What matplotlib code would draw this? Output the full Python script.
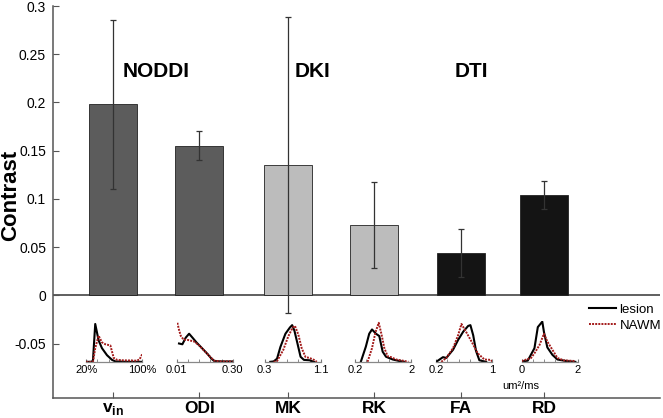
import matplotlib
matplotlib.use("Agg")

import matplotlib.pyplot as plt
from matplotlib.lines import Line2D

plt.rcParams["font.family"] = ["Liberation Sans", "DejaVu Sans"]
plt.rcParams["mathtext.fontset"] = "custom"
plt.rcParams["mathtext.rm"] = "Liberation Sans"
plt.rcParams["mathtext.bf"] = "Liberation Sans:bold"

# bar values
metrics = ["vin", "ODI", "MK", "RK", "FA", "RD"]
tick_labels = [r"$\mathbf{v}_{\mathbf{in}}$", "ODI", "MK", "RK", "FA", "RD"]
contrast = [0.198, 0.155, 0.1355, 0.073, 0.044, 0.104]
contrast_err = [0.088, 0.015, 0.1535, 0.045, 0.025, 0.015]
groups = ["NODDI", "NODDI", "DKI", "DKI", "DTI", "DTI"]
range_labels = [
    ("20%", "100%"),
    ("0.01", "0.30"),
    ("0.3", "1.1"),
    ("0.2", "2"),
    ("0.2", "1"),
    ("0", "2"),
]

# histograms (position along the metric range, normalised height)
vin_lesion_x = [0.00, 0.10, 0.12, 0.16, 0.22, 0.28, 0.37, 0.46, 0.52, 0.70, 1.00]
vin_lesion_y = [0.00, 0.00, 0.05, 0.97, 0.55, 0.35, 0.17, 0.05, 0.01, 0.00, 0.00]
vin_nawm_x = [0.00, 0.12, 0.16, 0.22, 0.28, 0.34, 0.43, 0.46, 0.49, 0.55, 0.65, 0.90, 0.95, 1.00]
vin_nawm_y = [0.00, 0.00, 0.35, 0.67, 0.50, 0.45, 0.42, 0.26, 0.10, 0.05, 0.04, 0.03, 0.06, 0.20]

odi_lesion_x = [0.04, 0.10, 0.16, 0.22, 0.28, 0.35, 0.45, 0.55, 0.62, 0.67, 0.80, 1.00]
odi_lesion_y = [0.47, 0.45, 0.62, 0.72, 0.62, 0.50, 0.35, 0.20, 0.08, 0.02, 0.01, 0.01]
odi_nawm_x = [0.01, 0.04, 0.07, 0.12, 0.20, 0.31, 0.40, 0.50, 0.60, 0.67, 0.80, 1.00]
odi_nawm_y = [1.00, 0.82, 0.67, 0.57, 0.56, 0.52, 0.42, 0.27, 0.12, 0.03, 0.01, 0.01]

mk_lesion_x = [0.10, 0.16, 0.22, 0.28, 0.37, 0.45, 0.49, 0.53, 0.58, 0.64, 0.70, 0.80, 0.88]
mk_lesion_y = [0.00, 0.01, 0.08, 0.38, 0.72, 0.88, 0.94, 0.80, 0.50, 0.13, 0.05, 0.04, 0.00]
mk_nawm_x = [0.16, 0.22, 0.33, 0.42, 0.50, 0.54, 0.60, 0.66, 0.73, 0.80, 0.88, 0.93]
mk_nawm_y = [0.00, 0.02, 0.30, 0.65, 0.88, 0.92, 0.70, 0.35, 0.12, 0.10, 0.05, 0.00]

rk_lesion_x = [0.10, 0.19, 0.25, 0.30, 0.37, 0.43, 0.49, 0.55, 0.67, 0.79, 0.88]
rk_lesion_y = [0.00, 0.39, 0.72, 0.83, 0.72, 0.66, 0.26, 0.13, 0.06, 0.02, 0.00]
rk_nawm_x = [0.22, 0.30, 0.36, 0.42, 0.47, 0.52, 0.58, 0.64, 0.73, 0.85, 0.95]
rk_nawm_y = [0.00, 0.35, 0.75, 1.00, 0.70, 0.35, 0.14, 0.12, 0.06, 0.03, 0.00]

fa_lesion_x = [0.00, 0.12, 0.18, 0.30, 0.39, 0.48, 0.57, 0.61, 0.66, 0.71, 0.77, 0.89]
fa_lesion_y = [0.00, 0.12, 0.10, 0.31, 0.56, 0.77, 0.92, 0.94, 0.68, 0.28, 0.04, 0.00]
fa_nawm_x = [0.09, 0.18, 0.30, 0.39, 0.45, 0.52, 0.63, 0.74, 0.86, 0.98, 1.00]
fa_nawm_y = [0.00, 0.10, 0.35, 0.68, 0.97, 0.80, 0.52, 0.22, 0.06, 0.05, 0.00]

rd_lesion_x = [0.00, 0.11, 0.23, 0.29, 0.37, 0.40, 0.46, 0.55, 0.64, 0.80, 0.96]
rd_lesion_y = [0.01, 0.03, 0.35, 0.89, 1.03, 0.76, 0.37, 0.18, 0.06, 0.02, 0.00]
rd_nawm_x = [0.00, 0.17, 0.23, 0.32, 0.40, 0.46, 0.55, 0.64, 0.75, 0.96]
rd_nawm_y = [0.02, 0.10, 0.22, 0.43, 0.72, 0.52, 0.31, 0.10, 0.04, 0.02]

lesion_curves = [
    (vin_lesion_x, vin_lesion_y),
    (odi_lesion_x, odi_lesion_y),
    (mk_lesion_x, mk_lesion_y),
    (rk_lesion_x, rk_lesion_y),
    (fa_lesion_x, fa_lesion_y),
    (rd_lesion_x, rd_lesion_y),
]
nawm_curves = [
    (vin_nawm_x, vin_nawm_y),
    (odi_nawm_x, odi_nawm_y),
    (mk_nawm_x, mk_nawm_y),
    (rk_nawm_x, rk_nawm_y),
    (fa_nawm_x, fa_nawm_y),
    (rd_nawm_x, rd_nawm_y),
]

# layout
x_pos = [1, 2, 3.03, 4.03, 5.04, 6]
inset_shift = [-0.31, -0.26, -0.27, -0.22, -0.29, -0.26]
group_colors = {"NODDI": "#5c5c5c", "DKI": "#bcbcbc", "DTI": "#141414"}
group_text_x = {"NODDI": 1.5, "DKI": 3.32, "DTI": 5.16}
nawm_color = "#a31a1a"

W, H = 663, 418
fig = plt.figure(figsize=(W / 100, H / 100), dpi=100)
ax = fig.add_axes([53 / W, 1 - 398 / H, 607 / W, 392 / H])

ax.bar(
    x_pos,
    contrast,
    width=0.557,
    color=[group_colors[g] for g in groups],
    edgecolor="#222222",
    linewidth=0.6,
    zorder=2
)

ax.errorbar(
    x_pos,
    contrast,
    yerr=contrast_err,
    fmt="none",
    ecolor="#333333",
    elinewidth=0.9,
    capsize=2.5,
    capthick=0.9,
    zorder=3
)

ax.axhline(0, color="#444444", linewidth=1.2, zorder=1)

ax.set_xlim(0.304, 7.346)
ax.set_ylim(-0.1065, 0.3)
ax.set_yticks([-0.05, 0, 0.05, 0.1, 0.15, 0.2, 0.25, 0.3])
ax.set_yticklabels(["-0.05", "0", "0.05", "0.1", "0.15", "0.2", "0.25", "0.3"])
ax.set_xticks(x_pos)
ax.set_xticklabels(tick_labels, fontsize=12.5, fontweight="bold")

ax.tick_params(axis="y", direction="in", length=4, labelsize=10, pad=5, color="#555555")
ax.tick_params(axis="x", direction="in", length=4, pad=2, color="#555555")

ax.spines["top"].set_visible(False)
ax.spines["right"].set_visible(False)
ax.spines["left"].set_color("#555555")
ax.spines["bottom"].set_color("#555555")
ax.spines["left"].set_linewidth(1.1)
ax.spines["bottom"].set_linewidth(1.1)

for name, gx in group_text_x.items():
    ax.text(gx, 0.232, name, ha="center", va="center", fontsize=15, fontweight="bold")

fig.text(11 / W, 1 - 195 / H, "Contrast", rotation=90, ha="center", va="center",
         fontsize=16, fontweight="bold")

# small histograms under the bars
for i, x in enumerate(x_pos):
    ins = ax.inset_axes([x + inset_shift[i], -0.069, 0.65, 0.0425], transform=ax.transData)
    ins.patch.set_alpha(0)
    lx, ly = lesion_curves[i]
    nx, ny = nawm_curves[i]
    ins.plot(lx, ly, color="black", linewidth=1.5)
    ins.plot(nx, ny, color=nawm_color, linewidth=1.4, linestyle=(0, (1, 0.6)))
    ins.set_xlim(0, 1)
    ins.set_ylim(0, 1.05)
    ins.set_yticks([])
    ins.set_xticks([0, 1])
    ins.set_xticklabels(range_labels[i], fontsize=8)
    ins.set_xticks([0.2, 0.4, 0.6, 0.8], minor=True)
    ins.tick_params(axis="x", which="both", direction="in", length=2, pad=2, color="#777777")
    for s in ["top", "right", "left"]:
        ins.spines[s].set_visible(False)
    ins.spines["bottom"].set_color("#888888")
    ins.spines["bottom"].set_linewidth(0.9)

fig.text(521 / W, 1 - 386 / H, "um\u00b2/ms", ha="center", va="center", fontsize=8)

handles = [
    Line2D([0], [0], color="black", linewidth=1.5),
    Line2D([0], [0], color=nawm_color, linewidth=1.4, linestyle=(0, (1, 0.6))),
]
fig.legend(
    handles,
    ["lesion", "NAWM"],
    loc="upper left",
    bbox_to_anchor=(584 / W, 1 - 298 / H),
    frameon=False,
    fontsize=9.5,
    handlelength=2.0,
    handletextpad=0.3,
    labelspacing=0.3,
    borderaxespad=0
)

fig.savefig("out.png", dpi=100)
